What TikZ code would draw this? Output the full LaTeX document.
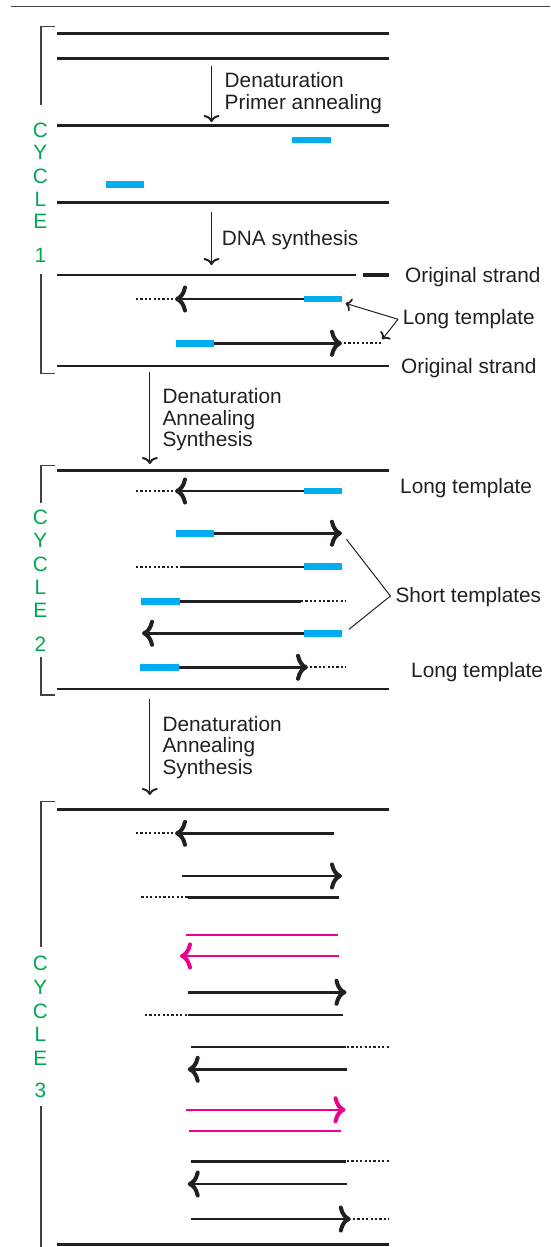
\documentclass[tikz,border=0pt]{standalone}
\usepackage{fontspec}
\setmainfont{Liberation Sans}
\usetikzlibrary{arrows.meta}
\definecolor{ink}{HTML}{231F20}
\definecolor{primerblue}{HTML}{00AEEF}
\definecolor{pcrmagenta}{HTML}{EC008C}
\definecolor{cycgreen}{HTML}{00A651}
\begin{document}
\begin{tikzpicture}[x=1pt,y=-1pt,
  every node/.style={inner sep=0pt,text=ink},
  lbl/.style={font=\fontsize{20.8}{22}\selectfont,anchor=base west},
  cyc/.style={font=\fontsize{20.8}{22}\selectfont,text=cycgreen,anchor=center},
  mainline/.style={draw=ink,line width=2.5pt},
  strand/.style={draw=ink,line width=2.4pt},
  mstrand/.style={draw=pcrmagenta,line width=2.1pt},
  dotl/.style={draw=ink,line width=2.2pt,dash pattern=on 2.2pt off 2.2pt},
  primer/.style={draw=primerblue,line width=6.5pt},
  tipr/.style={-{Computer Modern Rightarrow[length=12pt,width=27pt,line width=4pt]}},
  steparrow/.style={draw=ink,line width=1.1pt,-{Computer Modern Rightarrow[length=7pt,width=16pt,line width=2pt]}},
  pointer/.style={draw=ink,line width=1pt,-{Computer Modern Rightarrow[length=6pt,width=13pt,line width=1.8pt]}},
  brack/.style={draw=ink!85,line width=1.3pt},
  thinline/.style={draw=ink,line width=1pt}
]
\useasboundingbox (0,0) rectangle (550,1247);
% top rule
\draw[draw=ink!85,line width=1.4pt] (10.5,6.7) -- (550,6.7);

% ---------- brackets ----------
\draw[brack] (55.4,26.7) -- (41,26.7) -- (41,105);
\draw[brack] (41,274) -- (41,373.3) -- (55.4,373.3);
\draw[brack] (55.4,465.3) -- (41,465.3) -- (41,502.7);
\draw[brack] (41,656.7) -- (41,695) -- (55.4,695);
\draw[brack] (55.4,801.3) -- (41,801.3) -- (41,946.7);
\draw[brack] (41,1105.7) -- (41,1247);

% ---------- cycle labels ----------
\node[cyc] (c1a) at (40.3,130) {C};
\node[cyc] (c1b) at (40.3,152.7) {Y};
\node[cyc] (c1c) at (40.3,176.7) {C};
\node[cyc] (c1d) at (40.3,199) {L};
\node[cyc] (c1e) at (40.3,221.7) {E};
\node[cyc] (c1f) at (40.3,255) {1};
\node[cyc] (c2a) at (40.3,517.3) {C};
\node[cyc] (c2b) at (40.3,540.7) {Y};
\node[cyc] (c2c) at (40.3,564.3) {C};
\node[cyc] (c2d) at (40.3,587.3) {L};
\node[cyc] (c2e) at (40.3,610.7) {E};
\node[cyc] (c2f) at (40.3,644) {2};
\node[cyc] (c3a) at (40.3,963.3) {C};
\node[cyc] (c3b) at (40.3,987) {Y};
\node[cyc] (c3c) at (40.3,1011.7) {C};
\node[cyc] (c3d) at (40.3,1034) {L};
\node[cyc] (c3e) at (40.3,1058.3) {E};
\node[cyc] (c3f) at (40.3,1090) {3};

% ---------- main double-strand lines ----------
\draw[mainline] (57.2,33.7) -- (388.6,33.7);
\draw[mainline] (57.2,58.3) -- (388.6,58.3);
\draw[mainline] (57.2,125.3) -- (388.6,125.3);
\draw[mainline] (57.2,202.3) -- (388.6,202.3);
\draw[mainline] (57.2,275) -- (356,275);
\draw[draw=ink,line width=3.4pt] (363,275) -- (388.6,275);
\draw[mainline] (57.2,366) -- (388.6,366);
\draw[mainline] (57.2,470.7) -- (388.6,470.7);
\draw[mainline] (57.2,689) -- (388.6,689);
\draw[mainline] (57.2,809.3) -- (388.6,809.3);
\draw[mainline] (57.2,1244.3) -- (388.6,1244.3);

% ---------- step arrows and texts ----------
\coordinate (s1a) at (211.5,66);   \coordinate (s1b) at (211.5,122);
\coordinate (s2a) at (211.5,211.7); \coordinate (s2b) at (211.5,265);
\coordinate (s3a) at (149.8,371.7); \coordinate (s3b) at (149.8,464);
\coordinate (s4a) at (149.8,699.3); \coordinate (s4b) at (149.8,795);
\draw[steparrow] (s1a) -- (s1b);
\draw[steparrow] (s2a) -- (s2b);
\draw[steparrow] (s3a) -- (s3b);
\draw[steparrow] (s4a) -- (s4b);
\node[lbl] (t1a) at (224.5,87.3) {Denaturation};
\node[lbl] (t1b) at (224.5,109) {Primer annealing};
\node[lbl] (t2) at (221.7,245) {DNA synthesis};
\node[lbl] (t3a) at (162.4,403.3) {Denaturation};
\node[lbl] (t3b) at (162.4,425) {Annealing};
\node[lbl] (t3c) at (162.4,446.7) {Synthesis};
\node[lbl] (t4a) at (162.4,731.7) {Denaturation};
\node[lbl] (t4b) at (162.4,752.7) {Annealing};
\node[lbl] (t4c) at (162.4,774.3) {Synthesis};

% ---------- right-hand labels ----------
\node[lbl] (os1) at (405,282.7) {Original strand};
\node[lbl] (lt1) at (402.7,324) {Long template};
\node[lbl] (os2) at (401,373.3) {Original strand};
\node[lbl] (lt2) at (400,493.3) {Long template};
\node[lbl] (st) at (395.3,602.7) {Short templates};
\node[lbl] (lt3) at (411,677.3) {Long template};

% ---------- cycle 1 primers ----------
\draw[primer] (292,140) -- (330.5,140);
\draw[primer] (106,184.7) -- (144,184.7);

% ---------- cycle 1 products ----------
\draw[dotl] (136,299) -- (173,299);
\draw[strand,tipr] (304,299) -- (175,299);
\draw[primer] (304,299) -- (342,299);
\draw[strand,tipr] (214,343.3) -- (342,343.3);
\draw[dotl] (344,343.3) -- (382,343.3);
\draw[primer] (176,343.3) -- (214,343.3);
\coordinate (lt1p) at (398,319.3);
\coordinate (lt1u) at (345.5,303.3);
\coordinate (lt1d) at (382.3,339.3);
\draw[pointer] (lt1p) -- (lt1u);
\draw[pointer] (lt1p) -- (lt1d);

% ---------- cycle 2 ----------
\draw[dotl] (136,491) -- (173,491);
\draw[strand,tipr] (304,491) -- (175,491);
\draw[primer] (304,491) -- (342,491);

\draw[strand,tipr] (214,533.3) -- (342,533.3);
\draw[primer] (176,533.3) -- (214,533.3);

\draw[dotl] (136,566.7) -- (181.7,566.7);
\draw[strand] (181.7,566.7) -- (304,566.7);
\draw[primer] (304,566.7) -- (342,566.7);

\draw[strand] (179.6,601.3) -- (301,601.3);
\draw[dotl] (301,601.3) -- (346,601.3);
\draw[primer] (141.4,601.3) -- (179.6,601.3);

\draw[strand,tipr] (304,633.3) -- (142,633.3);
\draw[primer] (304,633.3) -- (342,633.3);

\draw[strand,tipr] (178.9,667.3) -- (308,667.3);
\draw[dotl] (310,667.3) -- (346,667.3);
\draw[primer] (140.3,667.3) -- (178.9,667.3);

\coordinate (stp) at (390.4,596);
\coordinate (stu) at (346.5,539.3);
\coordinate (std) at (349,629.3);
\draw[thinline] (stu) -- (stp) -- (std);

% ---------- cycle 3 ----------
\draw[dotl] (136,833.3) -- (173,833.3);
\draw[strand,tipr] (334.3,833.3) -- (175,833.3);

\draw[strand,tipr] (182.4,876) -- (342,876);

\draw[dotl] (141.4,897.3) -- (187.7,897.3);
\draw[strand] (187.7,897.3) -- (339,897.3);

\draw[mstrand] (186,934.7) -- (337.8,934.7);
\draw[mstrand,tipr] (339,956) -- (180,956);

\draw[strand,tipr] (187.7,992.3) -- (346.5,992.3);

\draw[dotl] (144.9,1015) -- (187.7,1015);
\draw[strand] (187.7,1015) -- (343,1015);

\draw[strand] (191.2,1047) -- (345.5,1047);
\draw[dotl] (347,1047) -- (388.6,1047);

\draw[strand,tipr] (346.5,1069.3) -- (187.7,1069.3);

\draw[mstrand,tipr] (186,1109.7) -- (345.5,1109.7);
\draw[mstrand] (189.4,1131) -- (341,1131);

\draw[strand] (191.2,1161.3) -- (345.5,1161.3);
\draw[dotl] (347,1161.3) -- (388.6,1161.3);

\draw[strand,tipr] (346.5,1184) -- (187.7,1184);

\draw[strand,tipr] (191.2,1219) -- (350.8,1219);
\draw[dotl] (353,1219) -- (388.6,1219);
\end{tikzpicture}
\end{document}
